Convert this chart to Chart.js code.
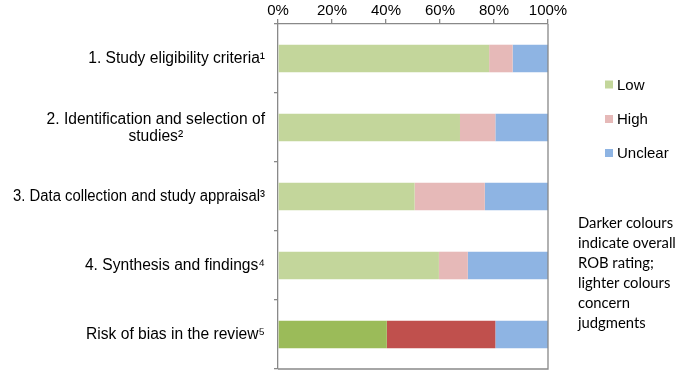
<!DOCTYPE html>
<html>
<head>
<meta charset="utf-8">
<script src="https://cdn.jsdelivr.net/npm/chart.js@4"></script>
<style>
  html, body { margin: 0; padding: 0; background: #fff; }
  #wrap { width: 685px; height: 372px; }
</style>
</head>
<body>
<div id="wrap"><canvas id="rob"></canvas></div>
<script>
// ---- data (percent of reviews) ----
const domains = [
  ['1. Study eligibility criteria¹'],
  ['2. Identification and selection of', 'studies²'],
  ['3. Data collection and study appraisal³'],
  ['4. Synthesis and findings⁴'],
  ['Risk of bias in the review⁵']
];
const lowVals     = [78.2, 67.4, 50.6, 59.6, 40.3];
const highVals    = [8.7, 13.1, 26.0, 10.7, 40.2];
const unclearVals = [13.1, 19.5, 23.4, 29.7, 19.5];
const seriesNames = ['Low', 'High', 'Unclear'];
const tickVals    = [0, 20, 40, 60, 80, 100];
const noteLines   = ['Darker colours', 'indicate overall', 'ROB rating;', 'lighter colours', 'concern', 'judgments'];

// colours: light for concern judgments, dark for overall rating (last row)
const light = { low: '#c3d69b', high: '#e6b9b8', unclear: '#8eb4e3' };
const dark  = { low: '#9bbb59', high: '#c0504d', unclear: '#8eb4e3' };
const colourRow = (key) => domains.map((d, i) => i === domains.length - 1 ? dark[key] : light[key]);

const FONT = "'Liberation Sans', Arial, sans-serif";
const LABEL_FS = 15.6;
const FS = 15;
const axisGrey = '#898989';

// draws the category labels (block right-aligned, lines centred), frame, legend and note
const extras = {
  id: 'extras',
  afterDraw(chart) {
    const ctx = chart.ctx;
    const area = chart.chartArea;
    const yScale = chart.scales.y;
    ctx.save();

    // frame round the plot area
    ctx.strokeStyle = axisGrey;
    ctx.lineWidth = 1.3;
    ctx.beginPath();
    ctx.moveTo(area.right, area.top);
    ctx.lineTo(area.right, area.bottom);
    ctx.lineTo(area.left, area.bottom);
    ctx.stroke();

    // category labels
    ctx.font = LABEL_FS + 'px ' + FONT;
    ctx.fillStyle = '#000';
    ctx.textBaseline = 'middle';
    ctx.textAlign = 'center';
    const rightEdge = area.left - 13;
    const lineH = 17.5;
    const maxW = 252;
    domains.forEach((lines, i) => {
      const cy = yScale.getPixelForValue(i) + 0.5;
      const w = Math.min(maxW, Math.max(...lines.map(l => ctx.measureText(l).width)));
      const cx = rightEdge - w / 2;
      const y0 = cy - (lines.length - 1) * lineH / 2;
      lines.forEach((l, j) => ctx.fillText(l, cx, y0 + j * lineH, maxW));
    });

    // legend
    const legY = [84.5, 119, 153];
    const legCol = [light.low, light.high, light.unclear];
    ctx.font = FS + 'px ' + FONT;
    ctx.textAlign = 'left';
    seriesNames.forEach((name, i) => {
      ctx.fillStyle = legCol[i];
      ctx.fillRect(605, legY[i] - 4, 8, 8);
      ctx.fillStyle = '#000';
      ctx.fillText(name, 617, legY[i] + 1);
    });

    // note
    ctx.font = "14.8px Lato, 'Open Sans', sans-serif";
    noteLines.forEach((l, i) => ctx.fillText(l, 578, 223 + i * 20, 106));

    ctx.restore();
  }
};

new Chart(document.getElementById('rob'), {
  type: 'bar',
  data: {
    labels: domains,
    datasets: [
      { label: seriesNames[0], data: lowVals, backgroundColor: colourRow('low') },
      { label: seriesNames[1], data: highVals, backgroundColor: colourRow('high') },
      { label: seriesNames[2], data: unclearVals, backgroundColor: colourRow('unclear') }
    ]
  },
  options: {
    indexAxis: 'y',
    responsive: true,
    maintainAspectRatio: false,
    animation: false,
    layout: { padding: { left: 0, right: 137, top: 0, bottom: 3 } },
    datasets: { bar: { barPercentage: 0.4, categoryPercentage: 1.0, borderWidth: 0 } },
    plugins: { legend: { display: false }, tooltip: { enabled: false } },
    scales: {
      x: {
        position: 'top',
        stacked: true,
        min: 0,
        max: 100,
        afterBuildTicks: (s) => { s.ticks = tickVals.map(v => ({ value: v })); },
        afterFit: (s) => { s.height = 24; },
        grid: { drawOnChartArea: false, drawTicks: true, tickLength: 5, color: axisGrey, lineWidth: 1.3 },
        border: { color: axisGrey, width: 1.3 },
        ticks: {
          padding: -1,
          color: '#000',
          font: { family: FONT, size: FS },
          callback: (v) => v + '%'
        }
      },
      y: {
        stacked: true,
        afterFit: (s) => { s.width = 278; },
        grid: { drawOnChartArea: false, drawTicks: true, tickLength: 4, offset: true, color: axisGrey, lineWidth: 1.3 },
        border: { color: axisGrey, width: 1.3 },
        ticks: { display: false }
      }
    }
  },
  plugins: [extras]
});
</script>
</body>
</html>
